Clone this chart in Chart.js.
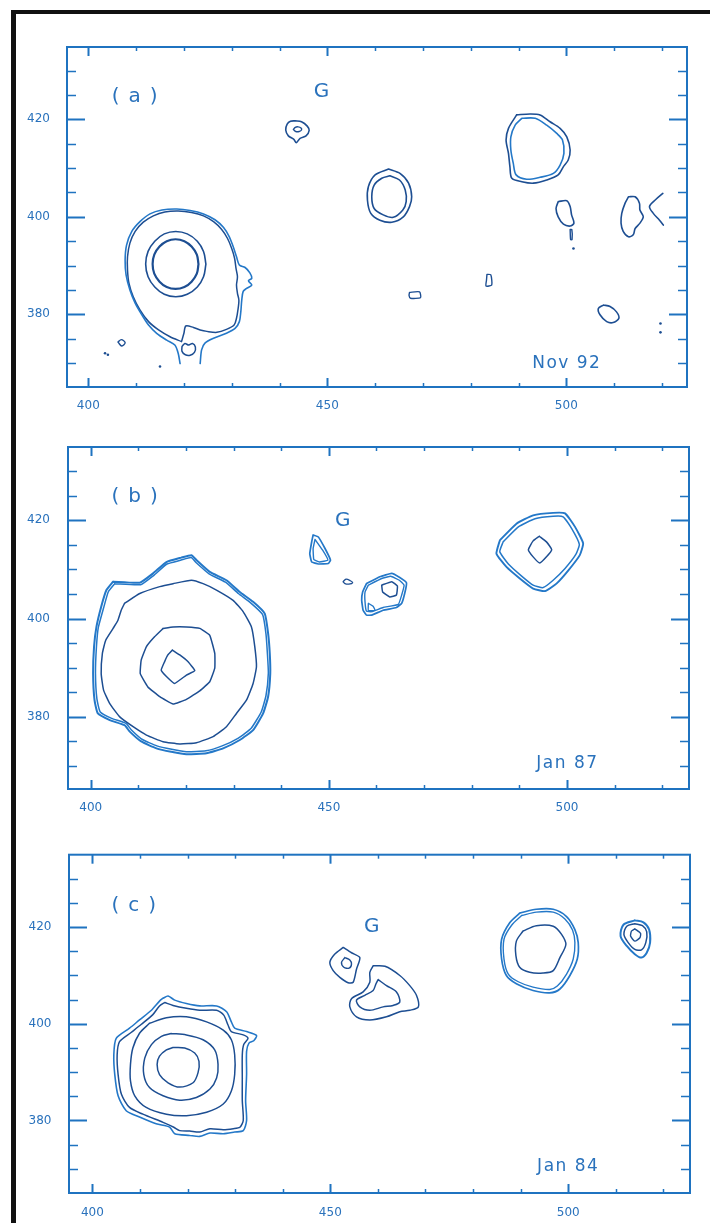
<!DOCTYPE html>
<html>
<head>
<meta charset="utf-8">
<script src="https://cdn.jsdelivr.net/npm/chart.js@4.4.1/dist/chart.umd.min.js"></script>
<style>
  html, body { margin: 0; padding: 0; background: #fff; }
  body { width: 710px; height: 1223px; position: relative; overflow: hidden; }
  canvas { position: absolute; left: 0; }
  #edge { position: absolute; left: 11px; top: 10px; right: 0; bottom: 0;
          border-left: 5px solid #111; border-top: 4px solid #111; pointer-events: none; }
</style>
</head>
<body>
<canvas id="panelA" width="710" height="420" style="top:0px"></canvas>
<canvas id="panelB" width="710" height="410" style="top:420px"></canvas>
<canvas id="panelC" width="710" height="393" style="top:830px"></canvas>
<div id="edge"></div>
<script>
// ---- axis ticks and labels ----
const xTickMarks = [400, 410, 420, 430, 440, 450, 460, 470, 480, 490, 500, 510, 520];
const yTickMarks = [370, 375, 380, 385, 390, 395, 400, 405, 410, 415, 420, 425, 430];
const xTickLabels = [400, 450, 500];
const yTickLabels = [380, 400, 420];
const panelTags = ['(a)', '(b)', '(c)'];
const epochLabels = ['Nov 92', 'Jan 87', 'Jan 84'];
const sourceTag = 'G';

// ---- (a) Nov 92 contours, [x, y] ----
const nov92MainOuter = [[419.2,369.9],[418.8,372.0],[418.1,373.7],[416.4,374.7],[414.3,376.1],[412.6,377.8],[411.2,379.9],[409.8,382.3],[408.7,385.0],[407.9,388.1],[407.7,391.1],[408.0,394.2],[409.1,397.0],[410.8,399.0],[412.9,400.6],[415.4,401.4],[418.5,401.6],[421.3,401.3],[424.1,400.6],[426.5,399.4],[428.3,397.8],[429.5,395.9],[430.3,393.9],[431.0,391.8],[431.6,390.1],[432.8,389.6],[433.8,388.5],[434.2,387.4],[433.5,386.9],[434.2,386.0],[433.1,385.3],[432.4,384.7],[432.1,382.9],[431.9,380.5],[431.6,378.5],[430.7,377.1],[428.9,376.1],[426.2,375.1],[424.4,374.1],[423.7,372.7],[423.4,369.9]];
const nov92MainShell = [[419.5,374.4],[417.1,375.4],[414.7,376.8],[412.6,378.5],[410.8,380.9],[409.4,383.6],[408.5,386.4],[408.2,389.1],[408.2,391.8],[408.7,394.6],[409.8,397.0],[411.5,398.9],[413.6,400.2],[416.0,401.0],[418.8,401.2],[421.6,400.9],[424.1,400.2],[426.2,399.0],[427.9,397.4],[429.1,395.6],[430.0,393.5],[430.6,391.5],[430.9,389.4],[431.2,387.7],[431.0,386.0],[431.2,384.3],[431.5,382.9],[431.3,380.9],[431.0,379.2],[430.5,377.8],[428.9,376.9],[426.9,376.3],[424.8,376.5],[423.4,376.8],[422.0,377.3],[420.4,377.6],[420.0,376.1]];
const nov92MainRing = [[424.6,390.3],[424.1,392.9],[422.8,395.0],[420.7,396.5],[418.3,397.0],[415.9,396.5],[413.9,395.0],[412.5,392.9],[412.0,390.3],[412.5,387.7],[413.9,385.6],[415.9,384.1],[418.3,383.6],[420.7,384.1],[422.8,385.6],[424.1,387.7]];
const nov92MainCore = [[423.05,390.3],[422.7,392.25],[421.6,393.9],[420.1,395.0],[418.25,395.4],[416.4,395.0],[414.9,393.9],[413.8,392.25],[413.45,390.3],[413.8,388.35],[414.9,386.7],[416.4,385.6],[418.25,385.2],[420.1,385.6],[421.6,386.7],[422.7,388.35]];
const nov92Knot = [[419.6,373.4],[420.2,374.0],[421.0,373.7],[421.8,374.0],[422.4,373.3],[422.2,372.2],[421.3,371.6],[420.3,371.7],[419.6,372.4]];
const nov92SpeckWest = [[406.2,374.3],[406.9,374.8],[407.7,374.2],[407.0,373.5]];
const nov92GOuter = [[443.25,419.7],[444.6,419.5],[445.8,418.6],[446.2,417.7],[445.55,416.6],[444.3,416.1],[443.5,415.2],[443.0,415.9],[441.85,416.6],[441.3,417.8],[441.6,419.0],[442.3,419.6]];
const nov92GInner = [[442.9,417.9],[443.3,418.35],[443.9,418.45],[444.5,418.2],[444.6,417.8],[444.1,417.5],[443.4,417.5]];
const nov92MidOuter = [[462.8,409.8],[465.2,408.9],[467.0,406.9],[467.65,404.1],[467.2,402.1],[465.9,400.0],[463.5,398.9],[461.0,399.3],[459.1,400.7],[458.4,403.4],[458.6,406.2],[460.0,408.6]];
const nov92MidInner = [[463.1,408.4],[465.1,407.55],[466.3,405.5],[466.5,403.1],[465.8,401.4],[463.8,399.9],[461.7,400.4],[459.8,401.7],[459.3,404.1],[459.8,406.5],[461.4,407.9]];
const nov92NorthOuter = [[489.6,420.9],[492.4,421.1],[494.5,420.9],[496.6,419.5],[498.7,418.15],[500.1,416.4],[500.8,413.7],[500.4,411.65],[499.4,410.3],[498.3,408.6],[495.9,407.55],[493.1,406.9],[490.7,407.2],[488.6,407.9],[488.2,410.3],[487.9,413.0],[487.4,415.75],[487.9,418.15]];
const nov92NorthInner = [[490.7,420.2],[493.5,420.2],[495.9,418.8],[498.0,417.1],[499.2,415.75],[499.5,413.0],[498.7,410.6],[497.3,408.9],[494.5,408.1],[491.7,407.7],[489.5,408.6],[488.9,411.0],[488.4,413.7],[488.4,416.4],[489.3,418.8]];
const nov92KnotEast = [[498.3,403.1],[500.1,403.3],[500.8,402.1],[501.1,400.4],[501.6,398.7],[500.8,398.1],[499.4,398.5],[498.3,400.0],[497.85,401.7]];
const nov92Dash = [[500.8,397.4],[501.15,397.4],[501.2,395.3],[500.9,395.3]];
const nov92KnotFar = [[513.0,404.1],[514.4,404.1],[515.3,402.8],[515.4,401.4],[516.1,400.0],[515.4,398.7],[514.4,397.6],[514.0,396.3],[513.0,395.9],[511.9,397.0],[511.45,398.7],[511.6,400.7],[512.3,402.8]];
const nov92Arc = [[520.2,404.8],[518.6,403.45],[517.4,402.1],[518.2,400.7],[519.5,399.3],[520.3,398.3]];
const nov92SpeckMid = [[467.2,384.5],[469.3,384.6],[469.5,383.4],[467.4,383.3],[467.1,383.9]];
const nov92SpeckEast = [[483.4,388.2],[484.2,388.1],[484.4,386.0],[483.2,385.8],[483.3,387.0]];
const nov92KnotSouth = [[507.75,381.9],[509.15,381.6],[510.5,380.5],[511.0,379.2],[509.8,378.3],[508.45,378.5],[507.05,379.9],[506.7,381.2]];
const nov92Dots = [[403.5,372.0],[404.1,371.7],[415.0,369.3],[501.5,393.5],[519.7,378.1],[519.7,376.3]];

// ---- (b) Jan 87 contours ----
const jan87MainOuter = [[404.7,407.5],[410.3,407.3],[413.1,409.2],[415.9,411.5],[419.0,412.4],[421.15,412.9],[422.2,411.9],[425.0,409.5],[428.5,407.8],[431.3,405.4],[434.1,403.4],[436.55,401.0],[437.25,397.0],[437.6,392.9],[437.7,388.8],[437.25,384.1],[436.2,380.7],[434.1,377.3],[431.3,375.3],[427.8,373.6],[424.3,372.6],[420.1,372.4],[416.9,372.9],[413.8,373.6],[410.6,375.0],[408.2,377.0],[407.1,378.3],[404.0,379.35],[401.5,380.7],[400.8,383.4],[400.5,388.8],[400.7,394.3],[401.2,398.3],[402.2,402.4],[403.3,405.8]];
const jan87MainShell = [[405.05,407.1],[410.5,406.9],[413.2,408.75],[416.0,411.1],[419.0,411.9],[421.1,412.4],[422.1,411.4],[424.85,409.1],[428.3,407.4],[431.0,405.1],[433.7,403.1],[436.1,400.8],[436.8,396.9],[437.1,392.9],[437.3,388.9],[436.8,384.3],[435.8,381.0],[433.7,377.7],[431.0,375.7],[427.6,374.1],[424.2,373.1],[420.1,372.9],[417.0,373.4],[413.9,374.1],[410.85,375.4],[408.5,377.4],[407.4,378.7],[404.4,379.7],[402.0,381.0],[401.3,383.65],[401.0,388.9],[401.2,394.2],[401.6,398.2],[402.7,402.15],[403.7,405.45]];
const jan87MainMid = [[407.1,403.1],[410.3,405.1],[414.5,406.5],[417.3,407.1],[421.15,407.8],[423.6,407.1],[426.4,405.8],[429.9,403.7],[432.0,401.4],[433.75,398.3],[434.45,394.3],[434.8,390.2],[434.1,386.8],[432.7,383.4],[430.6,380.7],[428.5,378.0],[425.7,376.0],[422.2,374.75],[418.7,374.5],[415.2,374.95],[411.7,376.3],[408.9,378.0],[406.1,380.0],[404.0,382.7],[402.7,385.45],[402.2,388.8],[402.45,392.9],[403.15,395.6],[404.7,398.0],[405.7,399.6],[406.4,401.7]];
const jan87MainInner = [[415.2,398.0],[417.3,398.3],[420.1,398.3],[422.9,398.0],[425.0,396.6],[426.05,392.9],[426.05,389.9],[425.0,387.15],[422.9,385.3],[420.1,383.55],[417.3,382.6],[414.5,384.1],[412.0,386.1],[410.4,388.8],[410.6,391.55],[411.7,394.3],[413.4,396.3]];
const jan87MainCore = [[417.15,393.6],[418.7,392.6],[420.45,391.2],[421.85,389.4],[420.1,388.5],[417.6,386.8],[415.9,388.2],[414.8,389.5],[415.5,391.2],[416.2,392.6]];
const jan87GOuter = [[446.7,417.0],[447.8,416.6],[449.2,414.25],[450.35,411.9],[449.9,411.2],[447.8,411.1],[446.4,411.5],[446.0,413.2],[446.4,415.6]];
const jan87GInner = [[447.1,416.1],[448.7,413.9],[449.8,411.9],[448.0,411.5],[446.85,412.0],[446.7,414.25]];
const jan87Speck = [[453.0,407.5],[453.6,408.0],[454.5,407.7],[455.0,407.3],[454.2,407.0],[453.4,407.1]];
const jan87PairOuter = [[457.9,407.1],[460.7,408.5],[463.2,409.2],[464.9,408.35],[466.3,407.3],[466.0,405.4],[465.3,403.1],[464.2,402.25],[461.4,401.7],[459.0,400.7],[457.9,400.7],[457.2,401.7],[456.9,403.7],[457.1,405.4]];
const jan87PairShell = [[458.3,406.8],[461.1,408.15],[463.0,408.6],[464.8,407.8],[465.8,406.8],[465.3,404.8],[464.6,402.9],[461.4,402.25],[459.0,401.4],[457.9,401.5],[457.6,403.4],[457.6,405.4]];
const jan87PairCore = [[461.1,406.8],[463.2,407.5],[464.4,406.6],[464.2,404.8],[462.8,404.4],[461.3,405.4]];
const jan87PairNub = [[458.3,403.1],[459.3,402.5],[459.7,401.7],[458.3,401.6]];
const jan87NorthOuter = [[485.9,415.9],[489.4,419.3],[492.9,421.0],[497.1,421.5],[499.6,421.4],[501.7,418.65],[503.4,415.3],[502.7,412.9],[500.3,409.8],[497.8,407.1],[495.4,405.6],[492.9,406.1],[490.1,408.15],[487.3,410.5],[485.2,413.2]];
const jan87NorthShell = [[486.6,415.6],[489.8,418.65],[493.3,420.3],[497.1,420.8],[499.2,420.7],[501.0,418.3],[502.6,415.1],[501.9,413.1],[499.6,410.2],[497.1,407.8],[495.0,406.3],[492.9,406.8],[490.3,408.8],[487.7,411.1],[485.9,413.6]];
const jan87NorthCore = [[494.2,416.75],[495.7,415.6],[496.8,414.0],[495.7,412.55],[494.3,411.3],[492.9,412.55],[491.9,414.0],[492.9,415.8]];

// ---- (c) Jan 84 contours ----
const jan84MainOuter = [[414.85,405.3],[415.9,405.75],[417.3,404.9],[419.75,404.2],[422.55,403.7],[426.1,403.7],[428.2,402.5],[429.2,400.4],[429.9,399.1],[432.4,398.4],[434.5,397.6],[433.9,396.5],[432.9,396.0],[432.4,394.3],[432.4,389.5],[432.2,384.1],[432.4,380.0],[431.7,377.9],[429.9,377.6],[427.5,377.25],[424.7,377.4],[422.55,376.7],[420.45,376.9],[417.3,377.25],[416.25,378.6],[413.4,379.3],[409.9,380.7],[407.1,382.0],[405.4,385.1],[404.7,389.5],[404.5,393.6],[405.0,397.0],[407.8,399.1],[409.9,400.8],[412.4,402.8],[414.1,404.7]];
const jan84MainShell = [[415.2,404.4],[416.95,403.8],[419.75,403.2],[422.55,402.8],[426.1,402.8],[427.6,401.8],[428.5,399.75],[429.2,398.4],[431.7,397.7],[432.7,397.0],[431.8,395.7],[431.5,393.6],[431.5,388.8],[431.5,384.1],[431.7,380.0],[431.0,378.6],[429.6,378.3],[427.5,378.1],[424.7,378.3],[422.55,377.6],[420.45,377.8],[418.35,377.9],[417.1,378.6],[414.85,379.6],[410.6,381.3],[407.8,382.7],[406.1,385.4],[405.4,389.5],[405.2,393.6],[405.7,396.3],[408.2,398.25],[410.3,399.9],[412.7,401.9],[414.1,403.7]];
const jan84MainMid = [[412.0,400.1],[415.55,401.25],[419.75,401.45],[424.0,400.4],[427.5,398.7],[429.2,396.7],[429.9,393.6],[429.9,389.5],[429.2,386.1],[427.5,383.4],[424.0,381.7],[419.75,381.0],[415.55,381.3],[411.3,382.7],[408.9,385.1],[408.0,388.2],[408.0,391.6],[408.5,395.0],[409.9,398.05]];
const jan84MainInner = [[416.6,398.0],[419.75,397.7],[423.25,396.7],[425.7,394.6],[426.4,391.6],[426.1,388.8],[424.7,386.5],[421.85,384.75],[418.35,384.2],[414.85,385.1],[412.0,386.8],[410.8,389.5],[411.0,392.9],[412.4,395.7],[414.5,397.4]];
const jan84MainCore = [[416.95,395.1],[419.4,395.0],[421.5,393.95],[422.4,392.25],[422.2,389.9],[421.15,387.8],[418.35,386.9],[415.9,387.8],[414.1,389.5],[413.6,391.6],[414.1,393.3],[415.55,394.6]];
const jan84GOuter = [[452.7,415.8],[454.45,414.7],[456.2,413.7],[455.5,411.3],[454.8,408.6],[453.75,408.5],[452.0,409.6],[450.6,411.0],[449.9,412.7],[450.9,414.4]];
const jan84GInner = [[453.05,413.7],[454.1,413.2],[454.45,412.35],[453.96,411.5],[452.84,411.7],[452.35,412.7]];
const jan84LobeOuter = [[459.0,412.0],[461.5,411.9],[464.6,410.0],[466.7,407.9],[468.1,405.9],[468.5,403.5],[466.7,402.8],[464.6,402.5],[461.8,401.45],[458.3,400.8],[455.5,401.45],[454.1,403.5],[454.45,405.2],[456.9,406.6],[458.3,408.6],[458.3,410.65]];
const jan84LobeInner = [[460.05,409.15],[461.8,407.9],[463.9,406.6],[464.6,404.5],[463.2,403.8],[461.1,403.5],[458.3,402.8],[456.2,403.5],[455.5,404.9],[457.25,405.9],[459.0,406.9],[459.6,408.3]];
const jan84NorthOuter = [[489.8,422.9],[493.3,423.7],[496.85,423.7],[499.65,422.2],[501.4,419.5],[502.1,416.8],[501.9,413.4],[500.35,410.0],[498.25,407.2],[496.1,406.4],[492.6,406.9],[489.1,408.3],[487.0,410.0],[486.0,413.4],[486.0,417.5],[487.7,420.9]];
const jan84NorthShell = [[490.2,422.4],[493.3,423.1],[496.85,423.1],[499.3,421.7],[500.9,419.4],[501.4,416.8],[501.05,413.4],[499.65,410.3],[497.7,407.8],[496.1,407.1],[492.6,407.6],[489.5,408.7],[487.4,410.3],[486.5,413.4],[486.5,417.5],[488.1,420.4]];
const jan84NorthCore = [[490.5,419.2],[493.3,420.3],[496.85,420.2],[498.6,418.5],[499.5,416.4],[498.25,413.7],[496.85,411.0],[494.7,410.5],[491.9,410.65],[489.8,411.7],[489.0,414.1],[489.1,417.1]];
const jan84EastOuter = [[514.0,421.4],[515.8,421.0],[517.0,419.5],[517.2,416.8],[516.5,414.7],[515.4,413.7],[514.0,414.4],[512.3,416.1],[511.0,418.15],[511.6,420.5]];
const jan84EastShell = [[514.0,420.7],[515.6,420.3],[516.5,419.0],[516.3,416.8],[515.4,415.3],[514.0,415.4],[512.6,416.8],[511.7,418.5],[512.3,420.2]];
const jan84EastCore = [[514.0,419.65],[515.2,418.7],[515.06,417.8],[514.0,417.1],[513.1,418.15],[513.3,419.2]];

// ---- styling ----
const NAVY = '#1d4e92';
const BLUE = '#2478c8';
const FRAME = '#1f73c0';
const INK = '#2a72bc';
const FONT = "'DejaVu Sans', 'Liberation Sans', sans-serif";

function contour(pts, color, width, tension, open) {
  const data = pts.map(p => ({ x: p[0], y: p[1] }));
  if (!open) data.push({ x: pts[0][0], y: pts[0][1] });
  return {
    data, showLine: true, fill: false, borderColor: color, borderWidth: width,
    pointRadius: 0, pointHoverRadius: 0, tension: tension, borderJoinStyle: 'round', borderCapStyle: 'round'
  };
}
function specks(pts, color) {
  return {
    data: pts.map(p => ({ x: p[0], y: p[1] })), showLine: false,
    pointRadius: 1.3, pointBorderWidth: 0, backgroundColor: color, pointStyle: 'circle'
  };
}

const panels = [
  {
    canvas: 'panelA', xRange: [395.54, 525.25], yRange: [365.09, 434.83],
    box: { left: 67, top: 47, right: 23, axisH: 33 }, yPad: 17, xPad: 12,
    tagAt: [404.9, 424.6], gAt: [448.8, 425.7], epochAt: [500.1, 369.9],
    sets: [
      contour(nov92MainOuter, BLUE, 1.6, 0.3, true),
      contour(nov92MainShell, NAVY, 1.5, 0.3),
      contour(nov92MainRing, NAVY, 1.6, 0.4),
      contour(nov92MainCore, NAVY, 2.2, 0.4),
      contour(nov92Knot, NAVY, 1.5, 0.35),
      contour(nov92SpeckWest, NAVY, 1.4, 0.35),
      contour(nov92GOuter, NAVY, 1.6, 0.3),
      contour(nov92GInner, NAVY, 1.4, 0.35),
      contour(nov92MidOuter, NAVY, 1.6, 0.3),
      contour(nov92MidInner, NAVY, 1.6, 0.3),
      contour(nov92NorthOuter, NAVY, 1.6, 0.3),
      contour(nov92NorthInner, BLUE, 1.6, 0.3),
      contour(nov92KnotEast, NAVY, 1.6, 0.3),
      contour(nov92Dash, NAVY, 1.4, 0.2),
      contour(nov92KnotFar, NAVY, 1.6, 0.3),
      contour(nov92Arc, NAVY, 1.6, 0.3, true),
      contour(nov92SpeckMid, NAVY, 1.4, 0.2),
      contour(nov92SpeckEast, NAVY, 1.4, 0.2),
      contour(nov92KnotSouth, NAVY, 1.6, 0.3),
      specks(nov92Dots, NAVY)
    ]
  },
  {
    canvas: 'panelB', xRange: [395.23, 525.63], yRange: [365.33, 434.9],
    box: { left: 68, top: 27, right: 21, axisH: 41 }, yPad: 18, xPad: 12,
    tagAt: [404.35, 424.7], gAt: [452.9, 419.8], epochAt: [500.1, 370.4],
    sets: [
      contour(jan87MainOuter, BLUE, 2.0, 0.15),
      contour(jan87MainShell, BLUE, 1.5, 0.15),
      contour(jan87MainMid, NAVY, 1.5, 0.15),
      contour(jan87MainInner, NAVY, 1.5, 0.1),
      contour(jan87MainCore, NAVY, 1.5, 0.1),
      contour(jan87GOuter, BLUE, 1.7, 0.1),
      contour(jan87GInner, BLUE, 1.4, 0.1),
      contour(jan87Speck, NAVY, 1.3, 0.3),
      contour(jan87PairOuter, BLUE, 1.7, 0.1),
      contour(jan87PairShell, BLUE, 1.4, 0.1),
      contour(jan87PairCore, NAVY, 1.5, 0.1),
      contour(jan87PairNub, BLUE, 1.4, 0.1),
      contour(jan87NorthOuter, BLUE, 1.9, 0.15),
      contour(jan87NorthShell, BLUE, 1.5, 0.15),
      contour(jan87NorthCore, NAVY, 1.5, 0.15)
    ]
  },
  {
    canvas: 'panelC', xRange: [395.08, 525.59], yRange: [364.99, 434.99],
    box: { left: 69, top: 21, right: 20, axisH: 30 }, yPad: 17.5, xPad: 13,
    tagAt: [404.0, 424.5], gAt: [458.7, 420.1], epochAt: [500.0, 370.4],
    sets: [
      contour(jan84MainOuter, BLUE, 1.6, 0.25),
      contour(jan84MainShell, NAVY, 1.5, 0.25),
      contour(jan84MainMid, NAVY, 1.5, 0.3),
      contour(jan84MainInner, NAVY, 1.5, 0.3),
      contour(jan84MainCore, NAVY, 1.5, 0.3),
      contour(jan84GOuter, NAVY, 1.5, 0.25),
      contour(jan84GInner, NAVY, 1.4, 0.3),
      contour(jan84LobeOuter, NAVY, 1.5, 0.3),
      contour(jan84LobeInner, NAVY, 1.5, 0.3),
      contour(jan84NorthOuter, BLUE, 1.7, 0.3),
      contour(jan84NorthShell, BLUE, 1.4, 0.3),
      contour(jan84NorthCore, NAVY, 1.5, 0.3),
      contour(jan84EastOuter, BLUE, 2.0, 0.3),
      contour(jan84EastShell, NAVY, 1.5, 0.3),
      contour(jan84EastCore, NAVY, 1.4, 0.2)
    ]
  }
];

// frame box with inward tick marks on all four sides
const frameTicks = {
  id: 'frameTicks',
  afterDatasetsDraw(chart) {
    const { ctx, chartArea: a, scales: { x, y } } = chart;
    ctx.save();
    ctx.strokeStyle = FRAME;
    ctx.lineCap = 'butt';
    const seg = (x1, y1, x2, y2, w) => {
      ctx.lineWidth = w; ctx.beginPath(); ctx.moveTo(x1, y1); ctx.lineTo(x2, y2); ctx.stroke();
    };
    xTickMarks.forEach(v => {
      const px = Math.round(x.getPixelForValue(v)) + 0.5;
      const major = xTickLabels.includes(v);
      const len = major ? 9 : 4;
      seg(px, a.bottom, px, a.bottom - len, major ? 2 : 1.5);
      seg(px, a.top, px, a.top + len, major ? 2 : 1.5);
    });
    yTickMarks.forEach(v => {
      const py = Math.round(y.getPixelForValue(v)) + 0.5;
      const major = yTickLabels.includes(v);
      const len = major ? 18 : 9;
      seg(a.left, py, a.left + len, py, major ? 2 : 1.5);
      seg(a.right, py, a.right - len, py, major ? 2 : 1.5);
    });
    ctx.lineWidth = 2;
    ctx.strokeRect(a.left, a.top, a.right - a.left, a.bottom - a.top);
    ctx.restore();
  }
};

// panel tag, source name and epoch text placed in data coordinates
const captions = {
  id: 'captions',
  afterDraw(chart) {
    const cfg = chart.options.plugins.captions;
    const { ctx, scales: { x, y } } = chart;
    ctx.save();
    ctx.fillStyle = INK;
    ctx.textBaseline = 'middle';
    const put = (txt, at, size, align, spacing) => {
      ctx.font = size + 'px ' + FONT;
      ctx.letterSpacing = spacing + 'px';
      ctx.textAlign = align;
      ctx.fillText(txt, x.getPixelForValue(at[0]), y.getPixelForValue(at[1]));
    };
    put(cfg.tag, cfg.tagAt, 20, 'left', 9);
    put(sourceTag, cfg.gAt, 20, 'center', 0);
    put(cfg.epoch, cfg.epochAt, 17, 'center', 1.5);
    ctx.restore();
  }
};

panels.forEach((p, i) => {
  const box = p.box;
  new Chart(document.getElementById(p.canvas), {
    type: 'scatter',
    data: { datasets: p.sets },
    options: {
      responsive: false,
      animation: false,
      devicePixelRatio: 1,
      events: [],
      layout: { padding: { left: 0, top: box.top, right: box.right, bottom: 0 } },
      plugins: {
        legend: { display: false },
        tooltip: { enabled: false },
        captions: { tag: panelTags[i], epoch: epochLabels[i], tagAt: p.tagAt, gAt: p.gAt, epochAt: p.epochAt }
      },
      scales: {
        x: {
          type: 'linear', position: 'bottom', min: p.xRange[0], max: p.xRange[1],
          grid: { display: false, drawTicks: false }, border: { display: false },
          afterBuildTicks: s => { s.ticks = xTickLabels.map(v => ({ value: v })); },
          afterFit: s => { s.height = box.axisH; },
          ticks: { color: INK, padding: p.xPad, maxRotation: 0, autoSkip: false,
                   font: { family: FONT, size: 12 }, callback: v => String(v) }
        },
        y: {
          type: 'linear', position: 'left', min: p.yRange[0], max: p.yRange[1],
          grid: { display: false, drawTicks: false }, border: { display: false },
          afterBuildTicks: s => { s.ticks = yTickLabels.map(v => ({ value: v })); },
          afterFit: s => { s.width = box.left; },
          ticks: { color: INK, padding: p.yPad, autoSkip: false,
                   font: { family: FONT, size: 12 }, callback: v => String(v) }
        }
      }
    },
    plugins: [frameTicks, captions]
  });
});
</script>
</body>
</html>
